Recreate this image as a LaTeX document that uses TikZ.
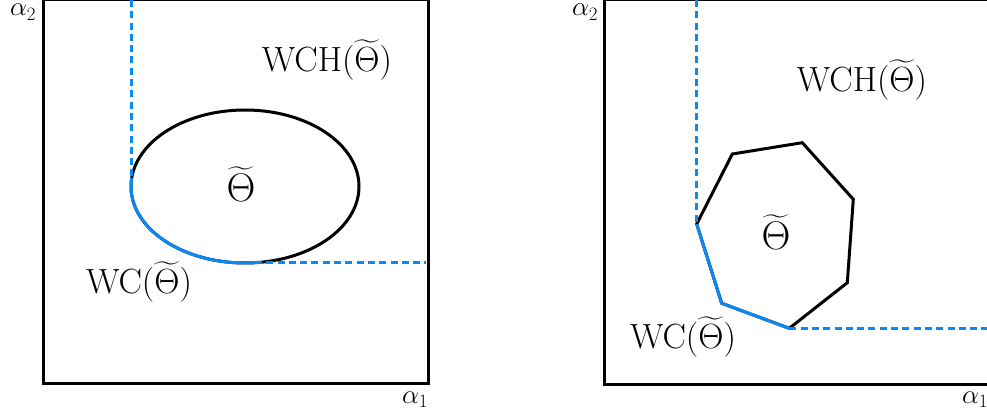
\RequirePackage{fix-cm}
\documentclass[tikz,border=0pt]{standalone}
\usepackage{amsmath}
\definecolor{wcblue}{RGB}{12,136,245}
\tikzset{
  frame/.style={line width=3pt, black},
  setline/.style={line width=3pt, black, line join=miter},
  wcline/.style={line width=3pt, wcblue, line join=round},
  wchline/.style={line width=3pt, wcblue, dash pattern=on 7pt off 4.3pt},
  biglabel/.style={inner sep=0pt, font=\fontsize{35}{38}\selectfont},
  setlabel/.style={inner sep=0pt, font=\fontsize{40}{44}\selectfont},
  axlabel/.style={inner sep=0pt, anchor=base, font=\fontsize{27}{30}\selectfont},
}
\begin{document}
\begin{tikzpicture}[x=1pt, y=-1pt]
\useasboundingbox (0,0) rectangle (987,419);
\clip (0,0) rectangle (987,419);
% ---------- left panel ----------
\draw[frame] (43,0) rectangle (428,383);
\def\cx{245}\def\cy{186.5}\def\ra{114}\def\rb{76.5}
\draw[setline] (\cx,\cy) ellipse [x radius=\ra, y radius=\rb];
\coordinate (Ltop) at ({\cx+\ra*cos(186.4)},0);
\coordinate (Lleft) at ({\cx+\ra*cos(186.4)},{\cy+\rb*sin(186.4)});
\coordinate (Lbot) at ({\cx+\ra*cos(85)},{\cy+\rb*sin(85)});
\coordinate (Lright) at (426,0 |- Lbot);
\draw[wcline] plot[domain=85:186.4, samples=80, smooth]
  ({\cx+\ra*cos(\x)}, {\cy+\rb*sin(\x)});
\draw[wchline] (Ltop) -- (Lleft);
\draw[wchline] (Lbot) -- (Lright);
\node[setlabel] (Lset) at (241,184) {$\widetilde{\Theta}$};
\node[biglabel] (Lwch) at (327,60) {$\mathrm{WCH}(\widetilde{\Theta})$};
\node[biglabel] (Lwc) at (139,282) {$\mathrm{WC}(\widetilde{\Theta})$};
\node[axlabel] (La2) at (23,16) {$\alpha_2$};
\node[axlabel] (La1) at (415,403) {$\alpha_1$};
% ---------- right panel ----------
\draw[frame] (604,0) rectangle (1000,384);
\coordinate (p1) at (696.7,224);
\coordinate (p2) at (732.3,154);
\coordinate (p3) at (802.3,142.7);
\coordinate (p4) at (853.3,199.3);
\coordinate (p5) at (847.3,282.7);
\coordinate (p6) at (789.3,328.3);
\coordinate (p7) at (721.7,303.3);
\draw[setline] (p1) -- (p2) -- (p3) -- (p4) -- (p5) -- (p6) -- (p7) -- cycle;
\draw[wcline] (p1) -- (p7) -- (p6);
\coordinate (Rtop) at (696.7,0);
\coordinate (Rright) at (990,328.3);
\draw[wchline] (Rtop) -- (p1);
\draw[wchline] (p6) -- (Rright);
\node[setlabel] (Rset) at (776,232) {$\widetilde{\Theta}$};
\node[biglabel] (Rwch) at (862,80) {$\mathrm{WCH}(\widetilde{\Theta})$};
\node[biglabel] (Rwc) at (683,337) {$\mathrm{WC}(\widetilde{\Theta})$};
\node[axlabel] (Ra2) at (585,16) {$\alpha_2$};
\node[axlabel] (Ra1) at (975,403) {$\alpha_1$};
\end{tikzpicture}
\end{document}
